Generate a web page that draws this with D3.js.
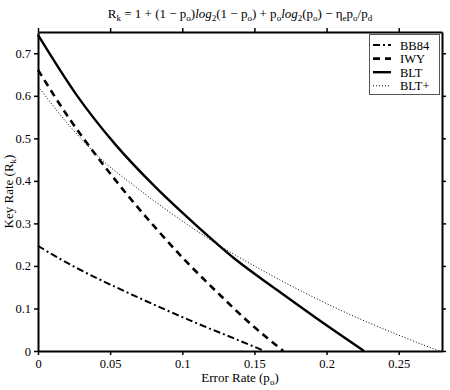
<!DOCTYPE html>
<html lang="en">
  <head>
    <meta charset="utf-8">
    <title>Key rate vs error rate</title>
    <script type="text/javascript" src="https://cdn.jsdelivr.net/npm/d3@7/dist/d3.min.js"></script>
    <style>
    body { margin: 0; background: #fff; }
    text { font-family: "Liberation Serif", "Times New Roman", serif; }
    </style>
  </head>
  <body>
    <script type="text/javascript">
      // values
      var bb84P = [0, 0.0263, 0.054, 0.0818, 0.1095, 0.137, 0.157];
      var bb84R = [0.247, 0.196, 0.150, 0.107, 0.066, 0.028, 0];

      var iwyP = [0, 0.0206, 0.0414, 0.0622, 0.0829, 0.1037, 0.1245, 0.1453, 0.17];
      var iwyR = [0.661, 0.552, 0.455, 0.366, 0.284, 0.207, 0.137, 0.070, 0];

      var bltP = [0, 0.0263, 0.054, 0.0818, 0.1095, 0.137, 0.165, 0.193, 0.226];
      var bltR = [0.743, 0.604, 0.484, 0.384, 0.296, 0.215, 0.145, 0.077, 0];

      var bltPlusP = [0, 0.0217, 0.0448, 0.068, 0.091, 0.1187, 0.137, 0.165, 0.193, 0.22, 0.248, 0.278];
      var bltPlusR = [0.622, 0.530, 0.448, 0.385, 0.327, 0.263, 0.225, 0.172, 0.123, 0.080, 0.040, 0];

      var xTicks = [0, 0.05, 0.1, 0.15, 0.2, 0.25];
      var yTicks = [0, 0.1, 0.2, 0.3, 0.4, 0.5, 0.6, 0.7];
      var legendNames = ["BB84", "IWY", "BLT", "BLT+"];

      var w = 450;
      var h = 390;
      // plot box edges (window.top is read-only, so use other names)
      var plotLeft = 38, plotRight = 442, plotTop = 32, plotBottom = 351;

      var svg = d3.select("body").append("svg")
                  .attr("width", w)
                  .attr("height", h);

      var x = d3.scaleLinear().domain([0, 0.28]).range([plotLeft, plotRight]);
      var y = d3.scaleLinear().domain([0, 0.75]).range([plotBottom, plotTop]);

      //series with their line styles
      var series = [
        {name: "BB84", p: bb84P, r: bb84R, width: 2, dash: "7,3,2,3"},
        {name: "IWY", p: iwyP, r: iwyR, width: 2.6, dash: "7,5"},
        {name: "BLT", p: bltP, r: bltR, width: 2.4, dash: null},
        {name: "BLT+", p: bltPlusP, r: bltPlusR, width: 1, dash: "1,2"}
      ];

      var line = d3.line()
                   .x(function(d){ return x(d[0]); })
                   .y(function(d){ return y(d[1]); })
                   .curve(d3.curveMonotoneX);

      svg.selectAll("path.curve")
         .data(series)
         .enter()
         .append("path")
         .attr("class", "curve")
         .attr("d", function(s){
           return line(s.p.map(function(p, i){ return [p, s.r[i]]; }));
         })
         .attr("fill", "none")
         .attr("stroke", "black")
         .attr("stroke-width", function(s){ return s.width; })
         .attr("stroke-dasharray", function(s){ return s.dash; });

      //axes, ticks pointing out on all four sides
      function styleAxis(g) {
        g.selectAll("path.domain").attr("stroke-width", 2);
        g.selectAll(".tick line").attr("stroke-width", 1.5);
        g.selectAll("text")
         .attr("font-family", "Liberation Serif")
         .attr("font-size", "12.5px")
         .attr("fill", "black");
      }

      svg.append("g")
         .attr("transform", "translate(0," + plotBottom + ")")
         .call(d3.axisBottom(x).tickValues(xTicks).tickSize(4).tickSizeOuter(0).tickPadding(4)
                 .tickFormat(function(d){ return String(d); }))
         .call(styleAxis);
      svg.append("g")
         .attr("transform", "translate(0," + plotTop + ")")
         .call(d3.axisTop(x).tickValues(xTicks).tickSize(4).tickSizeOuter(0).tickFormat(""))
         .call(styleAxis);
      svg.append("g")
         .attr("transform", "translate(" + plotLeft + ",0)")
         .call(d3.axisLeft(y).tickValues(yTicks).tickSize(4).tickSizeOuter(0).tickPadding(3)
                 .tickFormat(function(d){ return String(d); }))
         .call(styleAxis);
      svg.append("g")
         .attr("transform", "translate(" + plotRight + ",0)")
         .call(d3.axisRight(y).tickValues(yTicks).tickSize(4).tickSizeOuter(0).tickFormat(""))
         .call(styleAxis);

      //text with subscripts: parts are [text, kind] where kind is n, s (sub) or i (italic)
      function richText(t, parts) {
        var shifted = false;
        parts.forEach(function(part){
          var ts = t.append("tspan").text(part[0]);
          if (part[1] == "s") {
            ts.attr("font-size", "9px");
            if (!shifted) { ts.attr("dy", 3); shifted = true; }
          } else {
            if (shifted) { ts.attr("dy", -3); shifted = false; }
            if (part[1] == "i") ts.attr("font-style", "italic");
          }
        });
      }

      var title = svg.append("text")
                     .attr("x", 240)
                     .attr("y", 18)
                     .attr("text-anchor", "middle")
                     .attr("font-size", "13px");
      richText(title, [
        ["R", "n"], ["k", "s"], [" = 1 + (1 \u2212 p", "n"], ["o", "s"], [")", "n"],
        ["log", "i"], ["2", "s"], ["(1 \u2212 p", "n"], ["o", "s"], [") + p", "n"], ["o", "s"],
        ["log", "i"], ["2", "s"], ["(p", "n"], ["o", "s"], [") \u2212 \u03b7", "n"], ["e", "s"],
        ["p", "n"], ["o", "s"], ["/p", "n"], ["d", "s"]
      ]);

      var xLabel = svg.append("text")
                      .attr("x", 240)
                      .attr("y", 382)
                      .attr("text-anchor", "middle")
                      .attr("font-size", "13px");
      richText(xLabel, [["Error Rate (p", "n"], ["o", "s"], [")", "n"]]);

      var yLabel = svg.append("text")
                      .attr("transform", "translate(13," + ((plotTop + plotBottom) / 2) + ") rotate(-90)")
                      .attr("text-anchor", "middle")
                      .attr("font-size", "13px");
      richText(yLabel, [["Key Rate (R", "n"], ["k", "s"], [")", "n"]]);

      //legend
      var legend = svg.append("g");
      legend.append("rect")
            .attr("x", 369.5)
            .attr("y", 34.5)
            .attr("width", 70)
            .attr("height", 60)
            .attr("fill", "white")
            .attr("stroke", "#555")
            .attr("stroke-width", 1);

      var items = legend.selectAll("g.item")
                        .data(series)
                        .enter()
                        .append("g")
                        .attr("class", "item")
                        .attr("transform", function(s, i){
                          return "translate(0," + (45 + i * 13.6) + ")";
                        });
      items.append("line")
           .attr("x1", 373)
           .attr("x2", 391)
           .attr("y1", 0)
           .attr("y2", 0)
           .attr("stroke", "black")
           .attr("stroke-width", function(s){ return s.width; })
           .attr("stroke-dasharray", function(s){ return s.dash; });
      items.append("text")
           .attr("x", 400)
           .attr("y", 4.5)
           .attr("font-size", "12.5px")
           .text(function(s, i){ return legendNames[i]; });
    </script>
  </body>
</html>
